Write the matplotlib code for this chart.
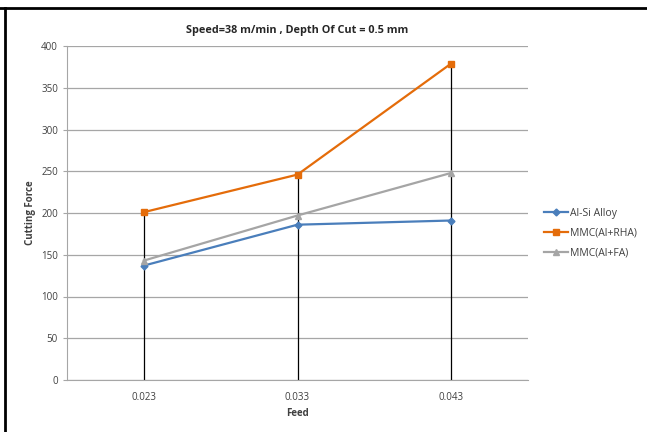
import matplotlib
matplotlib.use("Agg")
import matplotlib.pyplot as plt
from matplotlib.lines import Line2D

categories = ["0.023", "0.033", "0.043"]
al_si = [137, 186, 191]
mmc_rha = [201, 246, 379]
mmc_fa = [143, 197, 248]
yticks = [0, 50, 100, 150, 200, 250, 300, 350, 400]

plt.rcParams['font.family'] = ['Open Sans', 'DejaVu Sans']

fig = plt.figure(figsize=(6.47, 4.32), dpi=100)
ax = fig.add_axes([67/647, 1-380/432, 461/647, 334/432])

x = list(range(len(categories)))
ax.set_xlim(-0.5, len(categories) - 0.5)
ax.set_ylim(0, 400)

# drop lines
for xi, top in zip(x, [max(a, b, c) for a, b, c in zip(al_si, mmc_rha, mmc_fa)]):
    ax.plot([xi, xi], [0, top], color='black', lw=0.9, zorder=2)

ax.plot(x, al_si, color='#4a7ebb', marker='D', ms=3.5, lw=1.6, label='Al-Si Alloy', zorder=3)
ax.plot(x, mmc_rha, color='#e46c0a', marker='s', ms=4, lw=1.6, label='MMC(Al+RHA)', zorder=3)
ax.plot(x, mmc_fa, color='#a5a5a5', marker='^', ms=4, lw=1.6, label='MMC(Al+FA)', zorder=3)

ax.set_yticks(yticks)
ax.set_xticks(x)
ax.set_xticklabels(categories)
ax.yaxis.grid(True, color='#a6a6a6', lw=0.9)
ax.set_axisbelow(True)
for s in ['top', 'right']:
    ax.spines[s].set_visible(False)
ax.spines['left'].set_color('#a6a6a6')
ax.spines['bottom'].set_color('#a6a6a6')
ax.tick_params(axis='both', colors='#404040', labelsize=7, length=3, color='#a6a6a6')
ax.tick_params(axis='x', length=0, pad=9)

ax.set_xlabel('Feed', fontsize=7, fontweight='bold', color='#404040', labelpad=3)
ax.set_ylabel('Cutting Force', fontsize=7, fontweight='bold', color='#404040', labelpad=4)
ax.set_title('Speed=38 m/min , Depth Of Cut = 0.5 mm', fontsize=7.8, fontweight='bold',
             color='#262626', pad=9)

fig.legend(loc='center left', bbox_to_anchor=(535/647, 1-233/432), frameon=False,
           fontsize=7.5, handlelength=2.3, handletextpad=0.2, labelspacing=0.85,
           labelcolor='#404040')

# page border (top and left only)
fig.add_artist(Line2D([0, 1], [1-8/432, 1-8/432], transform=fig.transFigure, color='black', lw=2))
fig.add_artist(Line2D([5/647, 5/647], [0, 1-8/432], transform=fig.transFigure, color='black', lw=2))

fig.savefig('out.png', dpi=100)
